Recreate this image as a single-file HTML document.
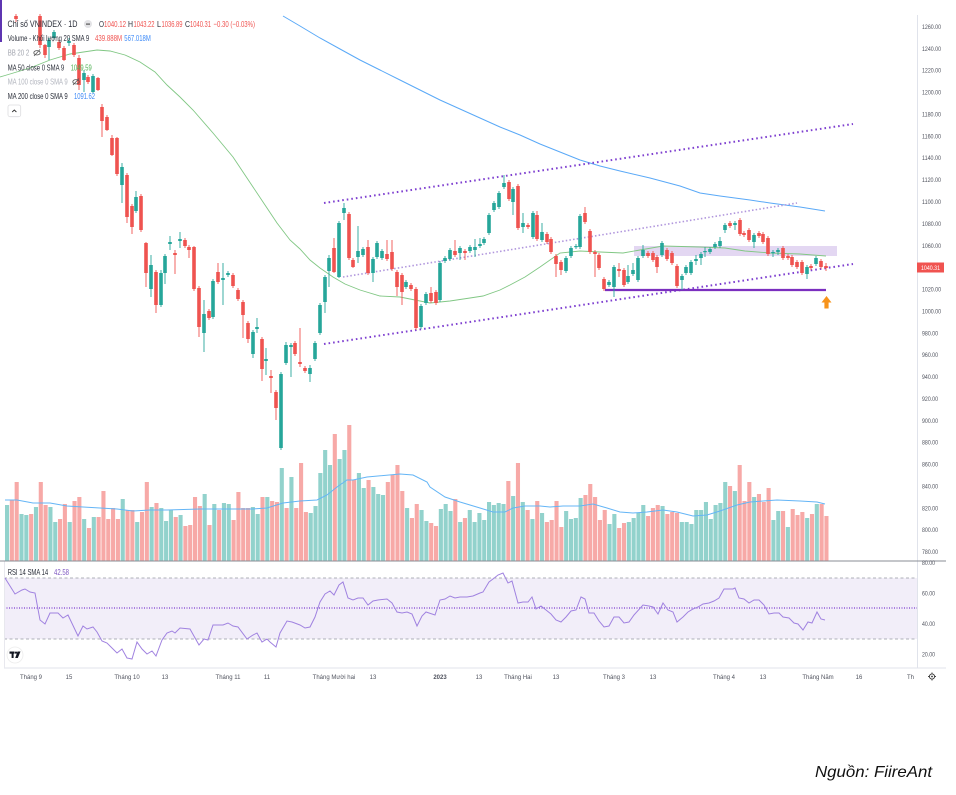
<!DOCTYPE html>
<html><head><meta charset="utf-8"><style>
html,body{margin:0;padding:0;background:#fff;}
svg{display:block;font-family:"Liberation Sans","Noto Sans CJK SC",sans-serif;}
</style></head><body>
<svg id="s" width="956" height="795" viewBox="0 0 956 795" xmlns="http://www.w3.org/2000/svg">
<rect width="956" height="795" fill="#fff"/>
<!-- RSI band -->
<rect x="4" y="578" width="913" height="61" fill="#f2eef9"/>
<line x1="4" x2="917" y1="578" y2="578" stroke="#9598a1" stroke-width="0.8" stroke-dasharray="3 2.5"/>
<line x1="4" x2="917" y1="639" y2="639" stroke="#9598a1" stroke-width="0.8" stroke-dasharray="3 2.5"/>
<line x1="4" x2="917" y1="608" y2="608" stroke="#7e3fd0" stroke-width="1.2" stroke-dasharray="1 1.5"/>
<!-- frame lines -->
<line x1="917.5" x2="917.5" y1="15" y2="668" stroke="#e0e3eb" stroke-width="1"/>
<line x1="4" x2="946" y1="668" y2="668" stroke="#e0e3eb" stroke-width="1"/>
<line x1="4.5" x2="4.5" y1="561" y2="668" stroke="#e8e8ee" stroke-width="1"/>
<rect x="0" y="0" width="2" height="42" fill="#5e35b1"/>
<!-- purple rectangle zone -->
<rect x="634" y="246" width="203" height="10" fill="#d9c9ee" opacity="0.75"/>
<g id="vol"></g>
<polyline fill="none" stroke="#64b5f6" stroke-width="1" points="5,500 17,500 33,503 50,503 67,506 83,507 100,508 117,509 133,511 150,510 167,510 200,509 233,509 253,509 267,508 283,503 300,501 317,500 327,495 337,487 347,480 353,480 367,477 400,474 413,475 427,482 430,487 445,497 460,502 480,508 493,512 505,512 513,508 525,506 540,506 550,507 563,506 580,506 593,504 607,508 620,512 633,513 647,512 663,510 677,512 693,516 707,515 720,511 737,505 750,502 763,501 777,500 800,501 817,502 825,504"/>
<line x1="0" x2="946" y1="561" y2="561" stroke="#8a8d96" stroke-width="1"/>
<!-- MAs -->
<polyline fill="none" stroke="#81c784" stroke-width="0.9" points="0,77 5,75.5 30,68 50,60 70,54 97,50 110,51 125,55 140,62 155,72 167,85 180,97 193,110 213,133 233,157 253,187 265,205 277,223 290,240 300,249 310,260 320,268 333,277 345,284 360,290 380,296 400,297 415,300 430,303 450,301 470,298 483,296 500,290 510,285 525,277 540,267 560,253 580,251 600,252 623,253 640,250 663,246 700,247 725,248 745,251 770,253 800,254 826,256"/>
<polyline fill="none" stroke="#5aa9f7" stroke-width="1" points="283,16 300,26 320,38 340,49 360,60 380,70 400,80 420,90 440,100 460,109 480,118 500,127 520,135 540,144 560,152 580,160 600,166 620,171 650,178 680,186 700,193 720,196 750,200 770,203 800,207 825,211"/>
<!-- channel -->
<line x1="324" y1="203" x2="853" y2="124" stroke="#7e3fd0" stroke-width="2" stroke-dasharray="1.6 3"/>
<line x1="324" y1="344" x2="853" y2="264" stroke="#7e3fd0" stroke-width="2" stroke-dasharray="1.6 3"/>
<line x1="343" y1="277" x2="797" y2="203" stroke="#b197dd" stroke-width="1.6" stroke-dasharray="1.5 2.2"/>
<line x1="605" y1="290" x2="826" y2="290" stroke="#7b2fbf" stroke-width="2.2"/>
<g id="cdl"></g>
<!-- orange arrow -->
<polygon points="821.5,302.5 826.5,296 831.5,302.5 828.6,302.5 828.6,308.5 824.4,308.5 824.4,302.5" fill="#f7931a"/>
<!-- RSI line -->
<polyline fill="none" stroke="#a082e0" stroke-width="1" points="5,578 15,594 22,590 25,589 30,592 35,593 40,620 45,624 50,613 58,613 63,618 68,615 78,636 83,626 87,629 93,627 97,632 102,641 107,643 112,648 117,653 122,649 127,658 132,659 137,642 142,649 147,654 152,651 156,656 162,640 167,633 172,631 175,633 180,628 190,629 199,645 204,639 208,640 213,625 223,625 228,623 233,626 238,627 247,639 253,635 257,633 262,642 267,639 270,642 276,647 280,633 287,621 292,622 300,625 305,628 310,627 315,617 320,602 325,594 330,591 334,595 339,585 343,582 348,598 353,600 358,598 363,598 368,605 373,601 378,600 387,599 392,603 397,612 402,613 407,612 412,614 417,626 422,616 426,612 435,615 440,600 445,599 450,596 455,598 460,597 467,597 473,596 480,593 483,592 489,582 493,579 498,575 503,573 508,583 512,581 518,603 523,602 528,602 532,597 536,609 541,606 546,610 551,614 556,620 561,622 566,617 571,611 576,610 581,597 585,599 589,613 594,613 599,621 604,627 609,626 614,617 619,617 624,623 629,622 634,615 643,605 649,606 653,607 658,614 663,603 668,610 673,612 677,622 683,617 688,612 693,609 698,607 703,604 709,603 714,601 719,598 724,589 733,589 735,588 739,598 744,599 749,603 754,600 759,600 764,605 769,614 774,613 779,613 783,617 789,618 794,623 798,624 803,630 808,622 812,623 817,612 821,619 825,620"/>

<!-- price axis labels -->
<g font-size="6.5" fill="#50535e">
<text x="922" y="29" textLength="19" lengthAdjust="spacingAndGlyphs">1260.00</text>
<text x="922" y="50.8" textLength="19" lengthAdjust="spacingAndGlyphs">1240.00</text>
<text x="922" y="72.7" textLength="19" lengthAdjust="spacingAndGlyphs">1220.00</text>
<text x="922" y="94.6" textLength="19" lengthAdjust="spacingAndGlyphs">1200.00</text>
<text x="922" y="116.5" textLength="19" lengthAdjust="spacingAndGlyphs">1180.00</text>
<text x="922" y="138.4" textLength="19" lengthAdjust="spacingAndGlyphs">1160.00</text>
<text x="922" y="160.2" textLength="19" lengthAdjust="spacingAndGlyphs">1140.00</text>
<text x="922" y="182.1" textLength="19" lengthAdjust="spacingAndGlyphs">1120.00</text>
<text x="922" y="204" textLength="19" lengthAdjust="spacingAndGlyphs">1100.00</text>
<text x="922" y="225.9" textLength="19" lengthAdjust="spacingAndGlyphs">1080.00</text>
<text x="922" y="247.8" textLength="19" lengthAdjust="spacingAndGlyphs">1060.00</text>
<text x="922" y="291.5" textLength="19" lengthAdjust="spacingAndGlyphs">1020.00</text>
<text x="922" y="313.4" textLength="19" lengthAdjust="spacingAndGlyphs">1000.00</text>
<text x="922" y="335.3" textLength="16" lengthAdjust="spacingAndGlyphs">980.00</text>
<text x="922" y="357.2" textLength="16" lengthAdjust="spacingAndGlyphs">960.00</text>
<text x="922" y="379" textLength="16" lengthAdjust="spacingAndGlyphs">940.00</text>
<text x="922" y="400.9" textLength="16" lengthAdjust="spacingAndGlyphs">920.00</text>
<text x="922" y="422.8" textLength="16" lengthAdjust="spacingAndGlyphs">900.00</text>
<text x="922" y="444.7" textLength="16" lengthAdjust="spacingAndGlyphs">880.00</text>
<text x="922" y="466.6" textLength="16" lengthAdjust="spacingAndGlyphs">860.00</text>
<text x="922" y="488.4" textLength="16" lengthAdjust="spacingAndGlyphs">840.00</text>
<text x="922" y="510.3" textLength="16" lengthAdjust="spacingAndGlyphs">820.00</text>
<text x="922" y="532.2" textLength="16" lengthAdjust="spacingAndGlyphs">800.00</text>
<text x="922" y="554.1" textLength="16" lengthAdjust="spacingAndGlyphs">780.00</text>
<text x="922" y="565" textLength="13" lengthAdjust="spacingAndGlyphs">80.00</text>
<text x="922" y="595.5" textLength="13" lengthAdjust="spacingAndGlyphs">60.00</text>
<text x="922" y="626" textLength="13" lengthAdjust="spacingAndGlyphs">40.00</text>
<text x="922" y="656.5" textLength="13" lengthAdjust="spacingAndGlyphs">20.00</text>
</g>
<rect x="917" y="262.5" width="27" height="10" fill="#f05350"/>
<text x="921" y="270" font-size="6.5" fill="#fff" textLength="19" lengthAdjust="spacingAndGlyphs">1040.31</text>

<!-- time axis -->
<g font-size="6" fill="#50535e" text-anchor="middle">
<text x="31" y="679">Tháng 9</text>
<text x="69" y="679">15</text>
<text x="127" y="679">Tháng 10</text>
<text x="165" y="679">13</text>
<text x="228" y="679">Tháng 11</text>
<text x="267" y="679">11</text>
<text x="334" y="679">Tháng Mười hai</text>
<text x="373" y="679">13</text>
<text x="440" y="679" font-weight="bold">2023</text>
<text x="479" y="679">13</text>
<text x="518" y="679">Tháng Hai</text>
<text x="556" y="679">13</text>
<text x="614" y="679">Tháng 3</text>
<text x="653" y="679">13</text>
<text x="724" y="679">Tháng 4</text>
<text x="763" y="679">13</text>
<text x="818" y="679">Tháng Năm</text>
<text x="859" y="679">16</text>
</g>
<text x="907" y="679" font-size="6" fill="#50535e">Thá</text>
<rect x="914" y="670" width="4" height="12" fill="#fff"/>
<circle cx="932" cy="676.5" r="2.6" fill="none" stroke="#333" stroke-width="0.9"/>
<circle cx="932" cy="676.5" r="0.9" fill="#333"/>
<g stroke="#333" stroke-width="0.9"><line x1="932" y1="672.5" x2="932" y2="673.8"/><line x1="932" y1="679.2" x2="932" y2="680.5"/><line x1="928" y1="676.5" x2="929.3" y2="676.5"/><line x1="934.7" y1="676.5" x2="936" y2="676.5"/></g>

<!-- TV logo -->
<circle cx="15" cy="655" r="8" fill="#fff" stroke="#ececec" stroke-width="0.8"/>
<rect x="9.5" y="651.5" width="5" height="2.2" fill="#131722"/>
<rect x="11.6" y="651.5" width="2" height="6.5" fill="#131722"/>
<circle cx="16" cy="652.6" r="1.1" fill="#131722"/>
<polygon points="17.5,651.5 20.5,651.5 17.8,658 15.2,658" fill="#131722"/>

<!-- legend -->
<g font-size="8.5" fill="#2a2e39">
<text x="7.5" y="27" font-size="9" textLength="70" lengthAdjust="spacingAndGlyphs">Chỉ số VNINDEX · 1D</text>
<circle cx="88" cy="24" r="4" fill="#e3e3e6"/>
<rect x="86" y="23.5" width="4" height="1.2" fill="#555"/>
<text x="99" y="27" textLength="5" lengthAdjust="spacingAndGlyphs">O</text>
<text x="104" y="27" fill="#f05350" textLength="22" lengthAdjust="spacingAndGlyphs">1040.12</text>
<text x="128" y="27" textLength="5" lengthAdjust="spacingAndGlyphs">H</text>
<text x="133.5" y="27" fill="#f05350" textLength="21" lengthAdjust="spacingAndGlyphs">1043.22</text>
<text x="157" y="27" textLength="4" lengthAdjust="spacingAndGlyphs">L</text>
<text x="161.5" y="27" fill="#f05350" textLength="21" lengthAdjust="spacingAndGlyphs">1036.89</text>
<text x="185" y="27" textLength="5" lengthAdjust="spacingAndGlyphs">C</text>
<text x="190" y="27" fill="#f05350" textLength="21" lengthAdjust="spacingAndGlyphs">1040.31</text>
<text x="213.5" y="27" fill="#f05350" textLength="41.5" lengthAdjust="spacingAndGlyphs">−0.30 (−0.03%)</text>
<text x="7.7" y="41" textLength="81.5" lengthAdjust="spacingAndGlyphs">Volume - Khối lượng 20 SMA 9</text>
<text x="95" y="41" fill="#f05350" textLength="27" lengthAdjust="spacingAndGlyphs">439.888M</text>
<text x="124.3" y="41" fill="#3d8af7" textLength="26.5" lengthAdjust="spacingAndGlyphs">567.018M</text>
<text x="7.7" y="55.5" fill="#a3a6af" textLength="21.5" lengthAdjust="spacingAndGlyphs">BB 20 2</text>
<text x="7.7" y="70.5" textLength="56.5" lengthAdjust="spacingAndGlyphs">MA 50 close 0 SMA 9</text>
<text x="70.7" y="70.5" fill="#4caf50" textLength="21" lengthAdjust="spacingAndGlyphs">1049.59</text>
<text x="7.7" y="84.5" fill="#b2b5be" textLength="60" lengthAdjust="spacingAndGlyphs">MA 100 close 0 SMA 9</text>
<text x="7.7" y="99" textLength="60" lengthAdjust="spacingAndGlyphs">MA 200 close 0 SMA 9</text>
<text x="74" y="99" fill="#3d8af7" textLength="21" lengthAdjust="spacingAndGlyphs">1091.62</text>
<text x="7.7" y="575" font-size="8" textLength="40.5" lengthAdjust="spacingAndGlyphs">RSI 14 SMA 14</text>
<text x="54" y="575" font-size="8" fill="#7e57c2" textLength="15" lengthAdjust="spacingAndGlyphs">42.58</text>
</g>
<g fill="none" stroke="#555" stroke-width="0.8">
<ellipse cx="37" cy="52.8" rx="3.2" ry="2.2"/><line x1="34" y1="56" x2="40" y2="49.5"/>
<ellipse cx="76" cy="81.8" rx="3.2" ry="2.2"/><line x1="73" y1="85" x2="79" y2="78.5"/>
</g>
<rect x="8" y="105" width="12.7" height="11.7" rx="2" fill="#fff" stroke="#dcdcdf" stroke-width="0.8"/>
<polyline points="12.2,112 14.3,110 16.4,112" fill="none" stroke="#333" stroke-width="0.9"/>

<!-- source -->
<text x="815" y="777" font-size="16" font-style="italic" fill="#111" textLength="117" lengthAdjust="spacingAndGlyphs">Nguồn: FiireAnt</text>
</svg>
<script>
(function(){
var NS='http://www.w3.org/2000/svg';
var V=[[505,1],[500,0],[482,0],[514,1],[515,1],[514,0],[507,1],[482,0],[505,0],[507,1],[522,1],[519,0],[504,0],[522,1],[501,0],[497,0],[519,1],[528,0],[517,1],[517,0],[491,0],[519,0],[508,0],[519,0],[499,1],[510,0],[510,0],[522,1],[512,0],[482,0],[507,1],[503,0],[508,1],[521,1],[510,1],[517,0],[515,1],[526,0],[525,0],[497,0],[506,0],[494,1],[525,0],[504,1],[510,0],[503,1],[504,1],[520,0],[492,0],[508,0],[508,0],[507,1],[514,1],[497,0],[497,1],[501,0],[502,0],[468,1],[508,0],[477,1],[508,0],[463,0],[512,0],[513,1],[506,1],[473,1],[450,1],[465,1],[434,0],[459,1],[450,1],[425,0],[480,0],[473,1],[488,1],[480,0],[487,1],[494,1],[495,1],[482,0],[475,0],[465,0],[491,0],[508,1],[518,0],[504,0],[510,1],[521,1],[523,0],[526,0],[509,1],
[504,1],[511,1],[499,0],[522,1],[518,0],[510,1],[522,1],[513,1],[520,1],[502,1],[505,1],[503,1],[504,1],[481,0],[496,1],[463,0],[502,1],[510,0],[519,1],[501,0],[513,1],[522,0],[520,0],[501,0],[527,0],[511,1],[519,1],[518,1],[498,1],[495,0],[484,0],[497,0],[520,0],[510,0],[524,1],[514,1],[528,0],[523,0],[522,1],[518,1],[513,1],[505,1],[516,0],[508,0],[505,0],[506,1],[514,0],[512,0],[513,0],[522,1],[522,1],[524,1],[510,1],[510,1],[502,1],[519,1],[505,1],[503,1],[482,1],[486,0],[491,1],[465,0],[501,0],[482,0],[497,1],[494,0],[502,0],[488,0],[520,1],[511,1],[511,0],[527,1],[509,0],[515,0],[512,0],[518,1],[514,0],[504,1],[504,0],[516,0]];
var C=[[16,16,19,14,22,0],[40,16,45,14,48,0],[45,45,55,44,58,0],[49,40,47,38,60,1],[54,32,38,30,40,1],[59,42,48,40,50,0],[64,48,60,46,61,0],[69,41,43,38,46,1],[74,45,55,43,57,0],[79,58,85,55,90,0],[84,73,80,70,92,1],[88,77,82,75,84,0],[93,76,92,74,93,1],[98,78,90,77,91,0],[102,107,121,104,137,0],[107,117,130,115,131,0],[112,138,155,135,156,0],[117,138,174,137,176,0],[122,167,185,163,203,1],[127,175,217,173,223,0],[132,206,227,204,234,0],[136,197,211,191,213,1],[141,196,230,194,232,0],[146,243,273,242,287,0],[151,265,289,255,297,1],[156,272,305,270,313,0],[161,273,305,270,307,1],[165,256,273,254,284,1],[170,242,244,236,250,1],[175,253,255,250,274,0],[180,239,241,232,248,1],[185,240,246,238,248,0],[189,247,250,245,258,0],[194,247,289,246,291,0],[199,288,327,286,337,0],[204,314,333,300,352,1],[209,311,318,309,320,0],[213,281,317,279,319,1],[218,272,282,263,284,0],[223,278,280,263,305,1],[228,273,275,271,277,1],[233,275,286,273,288,0],[238,290,299,288,301,0],[243,302,315,300,338,0],[248,323,339,321,343,0],[253,332,354,330,358,1],[257,327,329,318,333,1],[262,339,369,337,381,0],[266,359,361,348,375,1],[271,376,378,370,393,0],[276,392,408,390,420,0],[281,374,448,372,450,1],[286,345,363,342,365,1],[291,345,347,343,377,1],[295,343,354,341,356,0],[300,362,364,328,367,0],[305,368,371,366,373,0],[310,368,374,365,382,1],[315,343,359,341,361,1],[320,305,333,303,335,1],[325,277,302,275,313,1],[329,258,271,255,287,1],[334,248,272,238,273,0],[339,223,277,221,278,1],[344,208,213,203,220,1],[349,214,258,212,260,0],[353,260,267,258,268,0],[358,251,257,226,263,1],[363,249,255,247,257,1],[368,247,273,240,275,0],[373,259,273,257,282,1],[377,243,257,241,259,1],[382,251,258,249,260,1],[387,254,259,240,261,0],[392,252,269,240,271,0],[397,272,287,270,296,0],[402,275,292,273,305,0],[406,282,287,280,289,1],[411,285,289,283,291,0],[416,289,328,287,330,0],[421,306,327,304,329,1],[426,294,303,292,305,1],[431,293,301,287,303,0],[436,292,303,290,305,0],[440,263,300,261,302,1],[445,258,261,256,263,1],[450,250,259,248,261,1],[455,251,255,240,257,0],[460,248,253,246,260,1],[465,251,253,249,260,0],[470,247,251,245,253,1],[475,247,250,239,257,1],[480,244,246,238,248,1],[484,239,243,237,245,1],[489,215,233,213,235,1],[494,203,210,201,212,1],[499,193,207,191,209,1],[504,183,187,175,189,1],[509,182,199,180,201,0],[513,189,202,187,215,1],[518,186,228,184,230,0],[523,223,227,213,233,1],[528,225,227,223,229,0],[533,213,237,211,239,1],[537,215,239,211,241,0],[542,232,240,223,242,1],[547,234,242,232,244,0],[551,239,252,237,254,0],[556,256,264,254,277,0],[561,262,270,260,275,0],[566,258,271,256,273,1],[571,248,256,246,258,1],[576,246,247,244,249,1],[580,216,247,214,249,1],[585,213,222,207,224,0],[590,231,252,229,254,0],[595,252,254,250,277,0],[599,255,268,253,270,0],[604,279,289,277,291,0],[609,282,285,280,287,1],[614,267,287,265,297,1],[619,269,271,263,277,0],[624,270,285,268,287,0],[628,276,282,265,284,1],[633,270,274,263,276,1],[638,258,280,256,282,1],[643,250,256,245,258,1],[648,253,256,251,258,0],[653,253,260,251,262,0],[657,257,267,255,273,0],[662,243,255,241,257,1],[667,250,259,248,261,0],[672,253,263,251,265,0],[677,266,286,264,288,0],[682,276,280,274,290,1],[686,267,273,265,275,1],[691,262,273,260,275,1],[696,259,261,255,265,1],[701,254,258,252,265,1],[705,251,252,247,257,1],[710,249,252,247,254,1],[715,244,247,242,249,1],[720,241,246,237,248,1],[725,225,230,223,233,1],[730,223,226,221,228,0],[735,223,225,221,230,1],[740,220,234,218,236,0],[744,233,235,231,237,0],[749,230,240,228,242,0],[754,235,242,233,248,1],[759,233,236,231,238,0],[763,234,242,232,244,0],[768,238,254,236,256,0],[773,252,253,250,257,1],[778,250,252,248,255,1],[783,248,258,246,260,0],[788,256,258,254,260,0],[792,257,265,255,267,0],[797,262,267,260,269,0],[802,262,273,260,275,0],[807,267,274,265,279,1],[811,266,268,264,270,0],[816,258,264,256,266,1],[821,261,267,259,269,0],[826,266,268,263,271,0]];
var vg=document.getElementById('vol'),cg=document.getElementById('cdl');
function el(p,tag,a){var e=document.createElementNS(NS,tag);for(var k in a)e.setAttribute(k,a[k]);p.appendChild(e);}
for(var i=0;i<V.length;i++){var x=5+4.82*i;el(vg,'rect',{x:x.toFixed(2),y:V[i][0],width:4.1,height:561-V[i][0],fill:V[i][1]?'#92d2cc':'#f7a9a7'});}
for(var j=0;j<C.length;j++){var c=C[j],col=c[5]?'#26a69a':'#ef5350';
el(cg,'line',{x1:c[0],x2:c[0],y1:c[3],y2:c[4],stroke:col,'stroke-width':0.9});
el(cg,'rect',{x:c[0]-1.8,y:c[1],width:3.6,height:Math.max(c[2]-c[1],1.2),fill:col});}
})();
</script>
</body></html>
